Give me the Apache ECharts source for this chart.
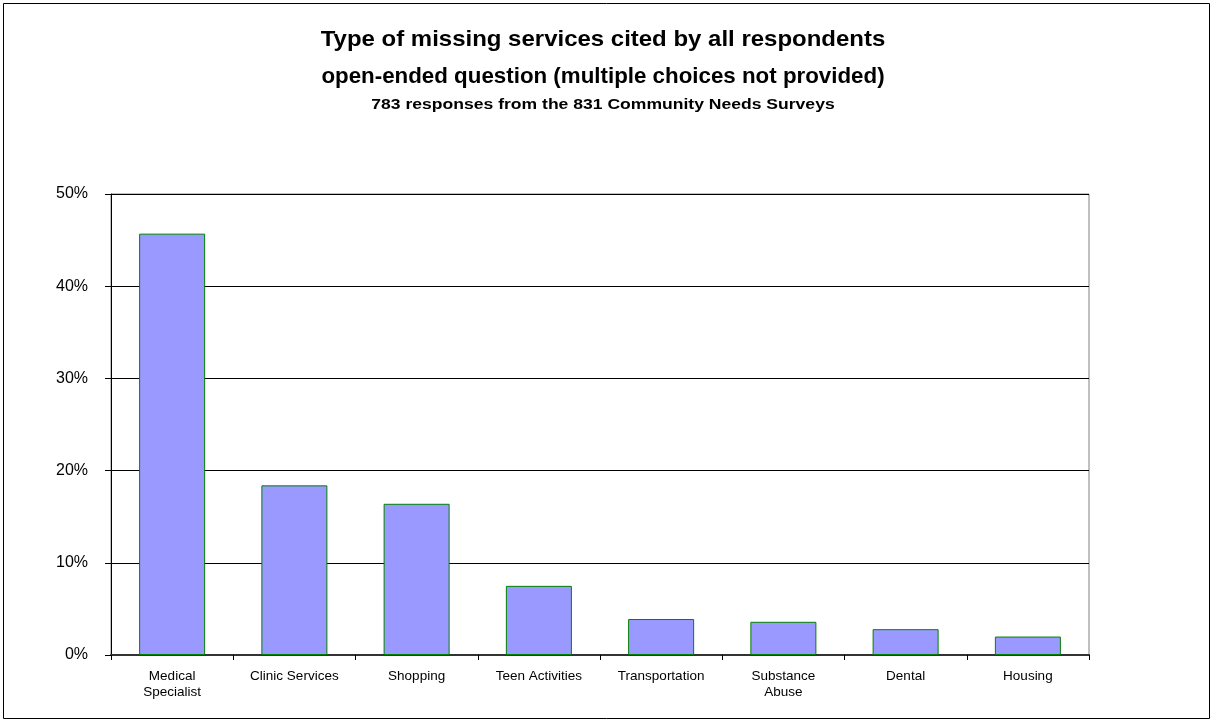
<!DOCTYPE html>
<html>
<head>
<meta charset="utf-8">
<script src="https://cdn.jsdelivr.net/npm/echarts@6/dist/echarts.min.js"></script>
<style>
  html, body { margin: 0; padding: 0; background: #fff; }
  #chart { width: 1213px; height: 723px; }
</style>
</head>
<body>
<div id="chart"></div>
<script>
// Missing services named in the open-ended survey question (share of responses, %)
const categories = [
  'Medical\nSpecialist', 'Clinic Services', 'Shopping', 'Teen Activities',
  'Transportation', 'Substance\nAbuse', 'Dental', 'Housing'
];
const shares = [45.7, 18.4, 16.4, 7.5, 3.9, 3.6, 2.8, 2.0];

const titleLines = [
  'Type of missing services cited by all respondents',
  'open-ended question (multiple choices not provided)',
  '783 responses from the 831 Community Needs Surveys'
];

const FONT = 'Arial, "Liberation Sans", sans-serif';

const chart = echarts.init(document.getElementById('chart'), null, { renderer: 'canvas' });

chart.setOption({
  backgroundColor: '#ffffff',
  animation: false,
  graphic: [
    {
      type: 'rect',
      shape: { x: 3.5, y: 3.5, width: 1206, height: 715 },
      style: { fill: 'none', stroke: '#000', lineWidth: 1 },
      silent: true
    },
    {
      type: 'text', x: 603, y: 40, scaleX: 1.09,
      style: { text: titleLines[0], font: 'bold 22px ' + FONT, fill: '#000',
               textAlign: 'center', textVerticalAlign: 'middle' }
    },
    {
      type: 'text', x: 603, y: 76.5, scaleX: 1.015,
      style: { text: titleLines[1], font: 'bold 22px ' + FONT, fill: '#000',
               textAlign: 'center', textVerticalAlign: 'middle' }
    },
    {
      type: 'text', x: 603, y: 105, scaleX: 1.17,
      style: { text: titleLines[2], font: 'bold 15px ' + FONT, fill: '#000',
               textAlign: 'center', textVerticalAlign: 'middle' }
    }
  ],
  grid: {
    left: 111, right: 124, top: 194, bottom: 68,
    show: true, borderColor: '#808080', borderWidth: 1,
    backgroundColor: '#ffffff'
  },
  xAxis: {
    type: 'category',
    data: categories,
    boundaryGap: true,
    axisLine: { show: true, lineStyle: { color: '#333', width: 2 } },
    axisTick: { show: true, length: 5, lineStyle: { color: '#000' } },
    axisLabel: {
      interval: 0, margin: 13, color: '#000',
      fontFamily: FONT, fontSize: 13.5, lineHeight: 16
    },
    splitLine: { show: false }
  },
  yAxis: {
    type: 'value',
    min: 0, max: 50, interval: 10,
    axisLine: { show: true, lineStyle: { color: '#000', width: 1 } },
    axisTick: { show: true, length: 6, lineStyle: { color: '#000' } },
    axisLabel: {
      formatter: '{value}%', margin: 23, color: '#000',
      fontFamily: FONT, fontSize: 16
    },
    splitLine: { show: true, lineStyle: { color: '#000', width: 1 } }
  },
  series: [{
    type: 'bar',
    data: shares,
    barWidth: '54%',
    itemStyle: { color: '#9999FF', borderColor: '#008000', borderWidth: 1 },
    silent: true
  }]
});
</script>
</body>
</html>
